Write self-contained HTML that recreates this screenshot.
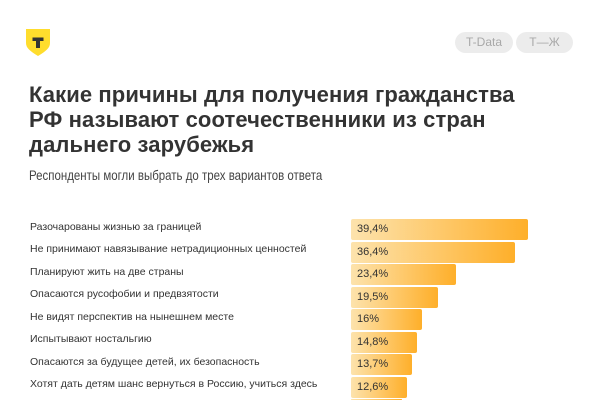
<!DOCTYPE html>
<html><head><meta charset="utf-8"><style>
html,body{margin:0;width:600px;height:400px;overflow:hidden}
body{background:#fff;font-family:"Liberation Sans","DejaVu Sans",sans-serif;color:#333;position:relative}
.abs{position:absolute}
.pill{position:absolute;top:32px;height:21px;border-radius:11px;background:#ececec;color:#a8a8a8;font-size:12px;line-height:21px;text-align:center}
h1{position:absolute;left:29px;top:82px;margin:0;font-size:22px;line-height:25px;font-weight:bold;color:#333;letter-spacing:0.1px;white-space:nowrap}
.sub{left:29px;top:167px;font-size:14px;color:#444;transform:scaleX(0.82);transform-origin:left top;white-space:nowrap}
.lab{position:absolute;left:30px;font-size:10.5px;color:#333;line-height:14px;white-space:nowrap}
.bar{position:absolute;left:351px;height:21px;border-radius:2px;background:linear-gradient(to right,#fde3ad,#feaf2a);font-size:11px;line-height:21px;padding-left:6px;box-sizing:border-box;color:#333}
</style></head><body>
<svg class="abs" style="left:26px;top:29px" width="24" height="28" viewBox="0 0 24 28"><path d="M0 0H24V14C24 19 20 22 12 27C4 22 0 19 0 14Z" fill="#ffdd2d"/><path d="M6.5 8.5H17.5V12H14V19H10V12H6.5Z" fill="#333"/></svg>
<div class="pill" style="left:455px;width:58px">T-Data</div>
<div class="pill" style="left:516px;width:57px">T—Ж</div>
<h1>Какие причины для получения гражданства<br>РФ называют соотечественники из стран<br>дальнего зарубежья</h1>
<div class="abs sub">Респонденты могли выбрать до трех вариантов ответа</div>
<div class="lab" style="top:220px">Разочарованы жизнью за границей</div>
<div class="lab" style="top:242px">Не принимают навязывание нетрадиционных ценностей</div>
<div class="lab" style="top:265px">Планируют жить на две страны</div>
<div class="lab" style="top:287px">Опасаются русофобии и предвзятости</div>
<div class="lab" style="top:310px">Не видят перспектив на нынешнем месте</div>
<div class="lab" style="top:332px">Испытывают ностальгию</div>
<div class="lab" style="top:355px">Опасаются за будущее детей, их безопасность</div>
<div class="lab" style="top:377px">Хотят дать детям шанс вернуться в Россию, учиться здесь</div>
<div class="bar" style="top:219px;width:177px">39,4%</div>
<div class="bar" style="top:242px;width:164px">36,4%</div>
<div class="bar" style="top:264px;width:105px">23,4%</div>
<div class="bar" style="top:287px;width:87px">19,5%</div>
<div class="bar" style="top:309px;width:71px">16%</div>
<div class="bar" style="top:332px;width:66px">14,8%</div>
<div class="bar" style="top:354px;width:61px">13,7%</div>
<div class="bar" style="top:377px;width:56px">12,6%</div>
<div class="bar" style="top:399px;width:51px;height:1px"></div>
</body></html>
